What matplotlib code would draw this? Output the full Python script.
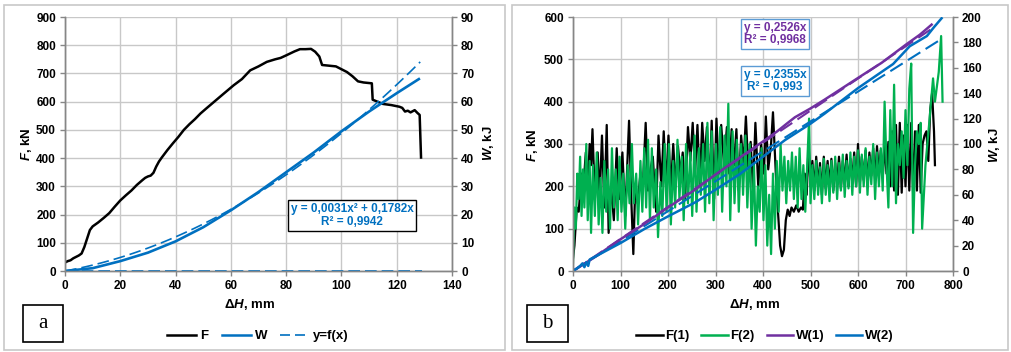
import numpy as np
import matplotlib
matplotlib.use('Agg')
import matplotlib.pyplot as plt
from matplotlib.patches import Rectangle
from matplotlib.lines import Line2D

plt.rcParams['font.family'] = ['Liberation Sans', 'DejaVu Sans']
plt.rcParams['font.weight'] = 'bold'
plt.rcParams['mathtext.fontset'] = 'custom'
plt.rcParams['mathtext.it'] = 'Liberation Sans:italic:bold'
plt.rcParams['mathtext.rm'] = 'Liberation Sans:bold'
plt.rcParams['mathtext.bf'] = 'Liberation Sans:bold'

# ---- panel (a) data ----
f_a = [(0, 30), (1, 35), (2, 38), (3, 45), (4, 50), (5, 55), (6, 62), (7, 85), (8, 115),
       (9, 145), (10, 158), (12, 172), (14, 188), (16, 205), (18, 228), (20, 250), (22, 268),
       (24, 285), (26, 305), (28, 322), (29, 330), (30, 335), (31, 338), (32, 348), (33, 370),
       (34, 388), (35, 402), (37, 428), (39, 452), (41, 475), (43, 500), (45, 520), (47, 538),
       (49, 558), (51, 575), (54, 600), (57, 625), (61, 658), (64, 680), (67, 711), (70, 725),
       (73, 741), (76, 750), (78, 755), (80, 764), (83, 778), (85, 786), (87, 786), (89, 787),
       (90.5, 777), (92, 760), (93, 730), (96, 727), (98, 725), (100, 715), (102, 705),
       (104, 690), (106, 672), (108, 668), (111, 665), (111.3, 607), (113, 600), (115, 592),
       (118, 588), (121, 582), (122, 578), (123, 565), (124, 568), (125, 562), (126.5, 570),
       (127.5, 560), (128.3, 553), (128.8, 402)]
w_a = [(0, 0), (10, 1), (20, 3.5), (30, 6.5), (40, 10.5), (50, 15.5), (60, 21.5), (70, 28),
       (80, 35), (90, 42), (100, 49.5), (110, 56.5), (120, 63), (128, 68)]
zero_a = [(0, 0), (129, 0)]
trend_a_coef = (0.0031, 0.1782)
trend_a_xmax = 128.5

# ---- panel (b) data ----
f1_b = [(0, 30), (3, 60), (8, 150), (12, 140), (18, 230), (22, 200), (27, 280), (31, 190),
        (35, 300), (38, 250), (41, 335), (46, 170), (52, 280), (56, 170), (61, 320), (66, 150),
        (71, 345), (75, 90), (80, 200), (86, 120), (92, 290), (97, 170), (104, 280), (110, 130),
        (118, 355), (123, 160), (127, 40), (131, 200), (136, 160), (142, 230), (147, 200),
        (153, 350), (158, 190), (163, 240), (168, 270), (175, 140), (180, 320), (186, 200),
        (191, 330), (196, 200), (201, 320), (206, 190), (211, 300), (216, 200), (221, 295),
        (226, 230), (231, 280), (236, 170), (242, 340), (247, 260), (252, 350), (257, 230),
        (262, 345), (267, 200), (272, 350), (277, 260), (282, 340), (287, 190), (292, 355),
        (297, 170), (302, 360), (307, 230), (312, 345), (318, 250), (324, 340), (329, 230),
        (334, 335), (339, 250), (344, 335), (349, 190), (354, 320), (359, 250), (364, 365),
        (369, 240), (374, 305), (379, 190), (384, 350), (390, 200), (396, 300), (402, 230),
        (406, 365), (411, 240), (417, 300), (421, 375), (427, 230), (431, 150), (436, 60),
        (440, 35), (444, 50), (448, 120), (452, 145), (456, 130), (460, 150), (465, 140),
        (470, 155), (475, 140), (480, 150), (484, 145), (488, 230), (492, 180), (496, 300),
        (500, 200), (504, 260), (508, 190), (512, 270), (516, 200), (520, 255), (524, 180),
        (528, 270), (532, 195), (536, 260), (540, 200), (544, 265), (548, 190), (552, 255),
        (556, 205), (560, 270), (564, 195), (568, 260), (572, 210), (576, 275), (580, 200),
        (584, 265), (588, 215), (592, 280), (596, 200), (600, 300), (604, 210), (608, 270),
        (612, 215), (616, 285), (620, 205), (624, 280), (628, 225), (632, 290), (636, 215),
        (640, 295), (644, 230), (648, 285), (652, 220), (656, 300), (660, 230), (664, 305),
        (668, 200), (672, 330), (676, 190), (680, 345), (684, 180), (688, 350), (692, 185),
        (696, 320), (700, 200), (704, 345), (708, 190), (712, 350), (716, 185), (720, 330),
        (724, 190), (728, 345), (732, 185), (736, 300), (740, 320), (744, 330), (748, 260),
        (752, 380), (756, 420), (760, 330), (762, 250)]
f2_b = [(0, 20), (3, 150), (6, 100), (9, 230), (12, 170), (15, 270), (18, 130), (21, 240),
        (24, 150), (28, 300), (31, 120), (35, 260), (38, 90), (42, 250), (46, 130), (50, 280),
        (54, 110), (58, 220), (62, 90), (66, 260), (70, 140), (74, 240), (78, 100), (82, 290),
        (86, 150), (90, 240), (94, 120), (98, 270), (102, 140), (106, 230), (110, 100),
        (115, 250), (119, 160), (124, 300), (128, 160), (133, 230), (137, 110), (142, 260),
        (146, 140), (150, 290), (154, 150), (158, 310), (162, 120), (166, 290), (170, 150),
        (175, 240), (179, 80), (184, 210), (188, 130), (193, 300), (197, 140), (202, 300),
        (206, 110), (211, 260), (215, 150), (220, 310), (224, 170), (229, 270), (233, 120),
        (238, 300), (242, 160), (247, 280), (251, 130), (256, 320), (260, 140), (265, 290),
        (269, 180), (274, 300), (278, 140), (283, 350), (287, 160), (292, 330), (296, 120),
        (301, 300), (305, 180), (310, 340), (314, 140), (319, 320), (323, 200), (327, 395),
        (331, 120), (336, 330), (340, 160), (345, 310), (349, 140), (354, 300), (358, 180),
        (363, 320), (367, 150), (372, 300), (376, 100), (381, 250), (385, 60), (389, 200),
        (393, 140), (397, 290), (401, 120), (405, 250), (409, 60), (413, 180), (417, 40),
        (421, 230), (425, 100), (429, 260), (433, 140), (437, 300), (441, 190), (445, 270),
        (449, 160), (453, 260), (457, 190), (461, 280), (465, 170), (469, 270), (473, 150),
        (477, 290), (481, 170), (485, 250), (489, 140), (493, 250), (497, 360), (500, 160),
        (504, 250), (508, 170), (512, 260), (516, 180), (520, 245), (524, 160), (528, 265),
        (532, 180), (536, 250), (540, 165), (544, 260), (548, 185), (552, 270), (556, 170),
        (560, 255), (564, 190), (568, 275), (572, 175), (576, 260), (580, 195), (584, 280),
        (588, 180), (592, 270), (596, 200), (600, 285), (604, 185), (608, 275), (612, 200),
        (616, 290), (620, 180), (624, 270), (628, 205), (632, 300), (636, 170), (640, 280),
        (644, 200), (648, 290), (652, 190), (656, 400), (660, 250), (664, 150), (668, 380),
        (672, 200), (676, 440), (680, 160), (684, 300), (688, 250), (692, 330), (696, 220),
        (700, 380), (704, 250), (708, 430), (712, 490), (716, 90), (720, 250), (724, 330),
        (728, 300), (732, 350), (735, 100), (742, 250), (750, 350), (758, 455), (762, 400),
        (770, 470), (775, 555), (778, 400)]
w1_b = [(0, 0), (50, 12), (100, 25), (150, 37), (200, 50), (257, 64), (300, 76), (350, 89),
        (400, 102), (430, 110), (450, 116), (467, 121), (500, 128), (530, 135), (600, 152),
        (650, 164), (700, 178), (730, 186), (755, 194)]
w2_b = [(0, 0), (8, 2), (15, 4), (20, 6), (24, 3), (28, 7), (32, 4), (35, 9), (50, 12),
        (100, 22), (150, 33), (200, 43), (257, 54), (300, 64), (350, 76), (400, 90), (446, 103),
        (500, 116), (530, 124), (600, 144), (674, 163), (709, 177), (745, 185), (760, 192),
        (776, 199)]
slope_w1, slope_w2 = 0.2526, 0.2355
trend_w1_xmax, trend_w2_xmax = 755, 776

BLACK = '#000000'
BLUE = '#0070c0'
GREEN = '#00b050'
PURPLE = '#7030a0'
GRID = '#c8c8c8'
AXIS = '#868686'

W, H = 1011, 352
fig = plt.figure(figsize=(W / 100, H / 100), dpi=100)


def fx(px):
    return px / W


def fy(py):
    return 1 - py / H


def style_axes(ax, ax2):
    ax.grid(True, color=GRID, linewidth=1)
    ax.set_axisbelow(True)
    for a in (ax, ax2):
        a.spines['top'].set_visible(False)
        for side in ('left', 'right', 'bottom'):
            a.spines[side].set_color(AXIS)
            a.spines[side].set_linewidth(1)
        a.tick_params(axis='both', direction='out', length=3.5, width=1, color=AXIS,
                      labelsize=8.5, pad=3)


def axis_rect(x0, x1, top, bottom):
    return [fx(x0), fy(bottom), fx(x1) - fx(x0), fy(top) - fy(bottom)]


# panel borders
fig.add_artist(Rectangle((fx(4), fy(350)), fx(505) - fx(4), fy(5) - fy(350),
                         transform=fig.transFigure, fill=False, edgecolor='#c8c8c8', lw=1.2))
fig.add_artist(Rectangle((fx(512), fy(350)), fx(1008) - fx(512), fy(5) - fy(350),
                         transform=fig.transFigure, fill=False, edgecolor='#c8c8c8', lw=1.2))

# ---------------- panel (a) ----------------
axa = fig.add_axes(axis_rect(65, 452, 17, 271))
axa2 = axa.twinx()
style_axes(axa, axa2)

fa = np.array(f_a).T
wa = np.array(w_a).T
za = np.array(zero_a).T
xt = np.linspace(0, trend_a_xmax, 100)
axa.plot(fa[0], fa[1], color=BLACK, lw=1.8)
axa2.plot(wa[0], wa[1], color=BLUE, lw=1.9)
axa2.plot(xt, trend_a_coef[0] * xt ** 2 + trend_a_coef[1] * xt, color=BLUE, lw=1.2,
          dashes=(7, 3))
axa2.plot(za[0], za[1], color=BLUE, lw=1.2, dashes=(7, 3), clip_on=False)

axa.set_xlim(0, 140)
axa.set_ylim(0, 900)
axa.set_xticks(np.arange(0, 141, 20))
axa.set_yticks(np.arange(0, 901, 100))
axa2.set_ylim(0, 90)
axa2.set_yticks(np.arange(0, 91, 10))

fig.text(fx(26), fy(144), r'$F$, kN', rotation=90, ha='center', va='center',
         fontsize=9.5, fontweight='bold')
fig.text(fx(488), fy(143), r'$W$, kJ', rotation=90, ha='center', va='center',
         fontsize=9.5, fontweight='bold')
fig.text(fx(250), fy(305), r'$\mathit{\Delta H}$, mm', ha='center', va='center',
         fontsize=9.5, fontweight='bold')

fig.text(fx(352), fy(215.5), 'y = 0,0031x² + 0,1782x\nR² = 0,9942', ha='center', va='center',
         fontsize=8.5, fontweight='bold', color=BLUE, linespacing=1.1,
         bbox=dict(boxstyle='square,pad=0.25', fc='white', ec='black', lw=1))

fig.add_artist(Rectangle((fx(23), fy(342)), fx(63) - fx(23), fy(305) - fy(342),
                         transform=fig.transFigure, fill=False, edgecolor='black', lw=1.2))
fig.text(fx(43), fy(324), 'a', ha='center', va='center', fontsize=15,
         family='Liberation Serif', fontweight='normal')

handles_a = [Line2D([], [], color=BLACK, lw=1.8),
             Line2D([], [], color=BLUE, lw=1.8),
             Line2D([], [], color=BLUE, lw=1.2, dashes=(6, 3))]
fig.legend(handles_a, ['F', 'W', 'y=f(x)'], loc='center', bbox_to_anchor=(fx(258), fy(336)),
           ncol=3, frameon=False, fontsize=9.5, handlelength=2.2, handletextpad=0.3,
           columnspacing=1.0, borderpad=0)

# ---------------- panel (b) ----------------
axb = fig.add_axes(axis_rect(573, 953, 17, 271))
axb2 = axb.twinx()
style_axes(axb, axb2)

f1 = np.array(f1_b).T
f2 = np.array(f2_b).T
w1 = np.array(w1_b).T
w2 = np.array(w2_b).T
axb.plot(f1[0], f1[1], color=BLACK, lw=1.6)
axb.plot(f2[0], f2[1], color=GREEN, lw=1.6)
x1t = np.array([0, trend_w1_xmax])
x2t = np.array([0, trend_w2_xmax])
axb2.plot(x1t, slope_w1 * x1t, color=PURPLE, lw=1.5, dashes=(7, 3))
axb2.plot(x2t, slope_w2 * x2t, color=BLUE, lw=1.5, dashes=(7, 3))
axb2.plot(w1[0], w1[1], color=PURPLE, lw=1.8)
axb2.plot(w2[0], w2[1], color=BLUE, lw=1.8)

axb.set_xlim(0, 800)
axb.set_ylim(0, 600)
axb.set_xticks(np.arange(0, 801, 100))
axb.set_yticks(np.arange(0, 601, 100))
axb2.set_ylim(0, 200)
axb2.set_yticks(np.arange(0, 201, 20))

fig.text(fx(532), fy(145), r'$F$, kN', rotation=90, ha='center', va='center',
         fontsize=9.5, fontweight='bold')
fig.text(fx(994), fy(145), r'$W$, kJ', rotation=90, ha='center', va='center',
         fontsize=9.5, fontweight='bold')
fig.text(fx(755), fy(305), r'$\Delta\mathit{H}$, mm', ha='center', va='center',
         fontsize=9.5, fontweight='bold')

fig.text(fx(775), fy(34), 'y = 0,2526x\nR² = 0,9968', ha='center', va='center',
         fontsize=8.5, fontweight='bold', color=PURPLE, linespacing=1.1,
         bbox=dict(boxstyle='square,pad=0.25', fc='white', ec='#5b9bd5', lw=1))
fig.text(fx(775), fy(81), 'y = 0,2355x\nR² = 0,993', ha='center', va='center',
         fontsize=8.5, fontweight='bold', color=BLUE, linespacing=1.1,
         bbox=dict(boxstyle='square,pad=0.25', fc='white', ec='#5b9bd5', lw=1))

fig.add_artist(Rectangle((fx(527), fy(342)), fx(568) - fx(527), fy(305) - fy(342),
                         transform=fig.transFigure, fill=False, edgecolor='black', lw=1.2))
fig.text(fx(547.5), fy(324), 'b', ha='center', va='center', fontsize=15,
         family='Liberation Serif', fontweight='normal')

handles_b = [Line2D([], [], color=BLACK, lw=1.8),
             Line2D([], [], color=GREEN, lw=1.8),
             Line2D([], [], color=PURPLE, lw=1.8),
             Line2D([], [], color=BLUE, lw=1.8)]
fig.legend(handles_b, ['F(1)', 'F(2)', 'W(1)', 'W(2)'], loc='center',
           bbox_to_anchor=(fx(765), fy(336)), ncol=4, frameon=False, fontsize=9.5,
           handlelength=2.0, handletextpad=0.2, columnspacing=0.9, borderpad=0)

fig.savefig('out.png', dpi=100)
